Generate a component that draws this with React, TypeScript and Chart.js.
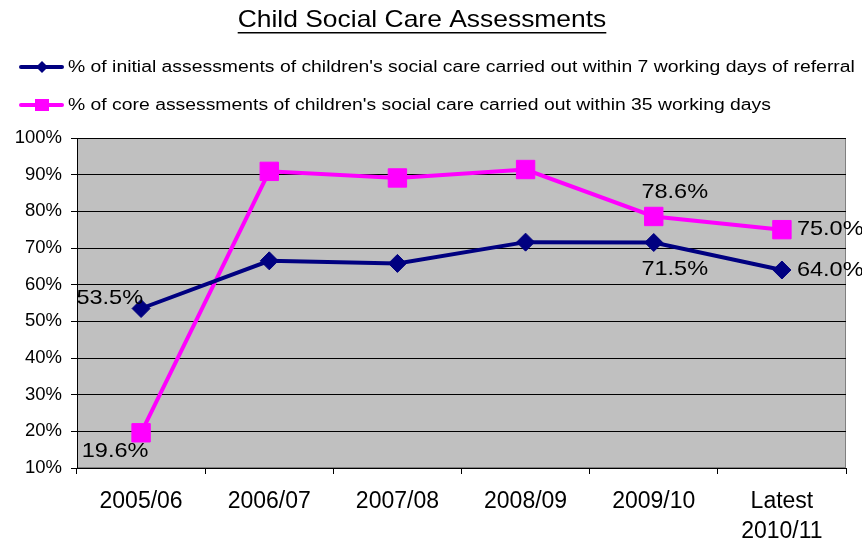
import React, { useEffect, useRef } from "react";
import { Chart, registerables } from "chart.js";

Chart.register(...registerables);

const TITLE = "Child Social Care Assessments";
const categories: (string | string[])[] = ["2005/06", "2006/07", "2007/08", "2008/09", "2009/10", ["Latest", "2010/11"]];
const initialLabel = "% of initial assessments of children's social care carried out within 7 working days of referral";
const coreLabel = "% of core assessments of children's social care carried out within 35 working days";
const initialValues = [53.5, 66.5, 65.8, 71.6, 71.5, 64.0];
const coreValues = [19.6, 90.9, 89.1, 91.4, 78.6, 75.0];
const yTicks = [10, 20, 30, 40, 50, 60, 70, 80, 90, 100];

// which points carry a value label, and where it sits relative to the point
const initialLabelSpots: Record<number, { dx: number; dy: number; align: CanvasTextAlign }> = {
  0: { dx: 2, dy: -10, align: "right" },
  4: { dx: 21, dy: 27, align: "center" },
  5: { dx: 15, dy: 0, align: "left" },
};
const coreLabelSpots: Record<number, { dx: number; dy: number; align: CanvasTextAlign }> = {
  0: { dx: -26, dy: 18, align: "center" },
  4: { dx: 21, dy: -24, align: "center" },
  5: { dx: 15, dy: 0, align: "left" },
};

const FONT = "'Liberation Sans', Arial, sans-serif";
const NAVY = "#000080";
const MAGENTA = "#FF00FF";

function wideText(ctx: CanvasRenderingContext2D, text: string, x: number, y: number, align: CanvasTextAlign, stretch: number) {
  const w = ctx.measureText(text).width * stretch;
  let left = x;
  if (align === "center") left = x - w / 2;
  else if (align === "right") left = x - w;
  ctx.save();
  ctx.translate(left, y);
  ctx.scale(stretch, 1);
  ctx.textAlign = "left";
  ctx.fillText(text, 0, 0);
  ctx.restore();
  return { left, w };
}

const decorPlugin = {
  id: "decor",
  beforeDraw(chart: any) {
    const { ctx, chartArea: a } = chart;
    ctx.save();
    ctx.fillStyle = "#ffffff";
    ctx.fillRect(0, 0, chart.width, chart.height);
    ctx.fillStyle = "#C0C0C0";
    ctx.fillRect(a.left, a.top, a.right - a.left, a.bottom - a.top);
    ctx.strokeStyle = "#808080";
    ctx.lineWidth = 1;
    ctx.strokeRect(a.left + 0.5, a.top + 0.5, a.right - a.left - 1, a.bottom - a.top - 1);
    ctx.restore();
  },
  afterDraw(chart: any) {
    const { ctx } = chart;
    ctx.save();
    // title
    ctx.fillStyle = "#000";
    ctx.font = `23.6px ${FONT}`;
    ctx.textBaseline = "middle";
    const t = wideText(ctx, TITLE, 422, 20, "center", 1.12);
    ctx.fillRect(t.left, 32, t.w, 1.5);

    // legend
    const rows = [
      { label: initialLabel, color: NAVY, style: "diamond", y: 67 },
      { label: coreLabel, color: MAGENTA, style: "square", y: 105 },
    ];
    ctx.font = `17.3px ${FONT}`;
    rows.forEach((r) => {
      ctx.strokeStyle = r.color;
      ctx.fillStyle = r.color;
      ctx.lineWidth = 4;
      ctx.lineCap = "round";
      ctx.beginPath();
      ctx.moveTo(21, r.y);
      ctx.lineTo(62, r.y);
      ctx.stroke();
      if (r.style === "diamond") {
        ctx.beginPath();
        ctx.moveTo(42 - 6, r.y);
        ctx.lineTo(42, r.y - 6);
        ctx.lineTo(42 + 6, r.y);
        ctx.lineTo(42, r.y + 6);
        ctx.closePath();
        ctx.fill();
      } else {
        ctx.fillRect(42 - 7, r.y - 6, 14, 12);
      }
      ctx.fillStyle = "#000";
      wideText(ctx, r.label, 68, r.y, "left", 1.12);
    });

    // value labels
    ctx.font = `21px ${FONT}`;
    ctx.fillStyle = "#000";
    const spots = [initialLabelSpots, coreLabelSpots];
    chart.data.datasets.forEach((ds: any, di: number) => {
      const meta = chart.getDatasetMeta(di);
      Object.keys(spots[di]).forEach((k) => {
        const i = Number(k);
        const s = spots[di][i];
        const p = meta.data[i];
        ctx.textBaseline = "middle";
        wideText(ctx, ds.data[i].toFixed(1) + "%", p.x + s.dx, p.y + s.dy, s.align, 1.12);
      });
    });
    ctx.restore();
  },
};

export default function App() {
  const ref = useRef<HTMLCanvasElement>(null);
  useEffect(() => {
    if (!ref.current) return;
    const chart = new Chart(ref.current, {
      type: "line",
      data: {
        labels: categories,
        datasets: [
          {
            label: initialLabel,
            data: initialValues,
            borderColor: NAVY,
            backgroundColor: NAVY,
            borderWidth: 4,
            pointStyle: "rectRot",
            pointRadius: 9,
            pointBorderWidth: 1,
            tension: 0,
          },
          {
            label: coreLabel,
            data: coreValues,
            borderColor: MAGENTA,
            backgroundColor: MAGENTA,
            borderWidth: 4,
            pointStyle: "rect",
            pointRadius: 13,
            pointBorderWidth: 1,
            tension: 0,
          },
        ],
      },
      options: {
        responsive: false,
        animation: false,
        layout: { padding: { top: 138, right: 16, left: 0, bottom: 0 } },
        plugins: { legend: { display: false }, title: { display: false }, tooltip: { enabled: false } },
        scales: {
          x: {
            offset: true,
            afterFit: (s: any) => {
              s.height = 72;
            },
            grid: { drawOnChartArea: false, drawTicks: true, tickLength: 6, color: "#000", offset: true },
            border: { color: "#000", width: 1 },
            ticks: { color: "#000", font: { family: FONT, size: 23, lineHeight: 1.3 }, padding: 13, maxRotation: 0 },
          },
          y: {
            min: 10,
            max: 100,
            afterFit: (s: any) => {
              s.width = 77;
            },
            afterBuildTicks: (s: any) => {
              s.ticks = yTicks.map((v) => ({ value: v }));
            },
            grid: { color: "#000", tickLength: 6, lineWidth: 1 },
            border: { color: "#000", width: 1 },
            ticks: {
              color: "#000",
              font: { family: FONT, size: 18.5 },
              padding: 9,
              callback: (v: any) => v + "%",
            },
          },
        },
      },
      plugins: [decorPlugin],
    });
    return () => chart.destroy();
  }, []);
  return (
    <div style={{ position: "fixed", left: 0, top: 0, width: 862, height: 540 }}>
      <canvas ref={ref} width={862} height={540} />
    </div>
  );
}
